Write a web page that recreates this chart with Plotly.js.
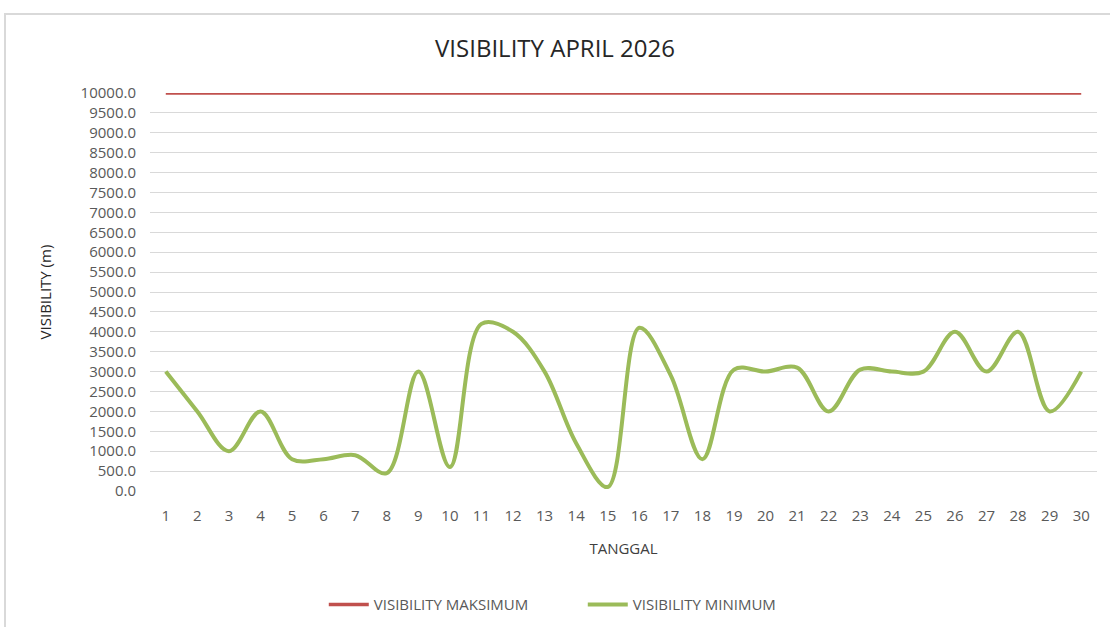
<!DOCTYPE html>
<html>
<head>
<meta charset="utf-8">
<script src="https://cdn.plot.ly/plotly-3.0.1.min.js"></script>
<style>
  html, body { margin: 0; padding: 0; background: #ffffff; width: 1110px; height: 627px; overflow: hidden; }
  #frame { position: absolute; left: 4px; top: 13px; width: 1200px; height: 700px; border: 2px solid #d9d9d9; box-sizing: border-box; }
  #chart { position: absolute; left: 0; top: 0; width: 1110px; height: 627px; }
</style>
</head>
<body>
<div id="frame"></div>
<div id="chart"></div>
<script>
const days = [1,2,3,4,5,6,7,8,9,10,11,12,13,14,15,16,17,18,19,20,21,22,23,24,25,26,27,28,29,30];
const visMax = [10000,10000,10000,10000,10000,10000,10000,10000,10000,10000,10000,10000,10000,10000,10000,10000,10000,10000,10000,10000,10000,10000,10000,10000,10000,10000,10000,10000,10000,10000];
const visMin = [3000,2000,1000,2000,800,800,900,450,3000,600,4200,4000,3000,1200,100,4100,2900,800,3050,3000,3100,2000,3050,3000,3000,4000,3000,4000,2000,3000];
const tickVals = [0,500,1000,1500,2000,2500,3000,3500,4000,4500,5000,5500,6000,6500,7000,7500,8000,8500,9000,9500,10000];

const font = 'Open Sans, Liberation Sans, sans-serif';
const traces = [
  { x: days, y: visMax, type: 'scatter', mode: 'lines', name: 'VISIBILITY MAKSIMUM',
    line: { color: '#c0504d', width: 3.5 } },
  { x: days, y: visMin, type: 'scatter', mode: 'lines', name: 'VISIBILITY MINIMUM',
    line: { color: '#9bbb59', width: 4, shape: 'spline', smoothing: 1 } }
];
const layout = {
  width: 1110, height: 627,
  margin: { l: 150, r: 13, t: 93, b: 136, autoexpand: false },
  paper_bgcolor: 'rgba(0,0,0,0)', plot_bgcolor: 'rgba(0,0,0,0)',
  font: { family: font, color: '#595959', size: 15 },
  title: { text: 'VISIBILITY APRIL 2026', font: { family: font, size: 24, color: '#262626' },
           x: 0.5, xanchor: 'center', y: 0.922, yanchor: 'middle' },
  xaxis: {
    type: 'linear', range: [0.5, 30.5], tickmode: 'array', tickvals: days,
    showgrid: false, zeroline: false, showline: false, ticks: '',
    ticklabelstandoff: 14, automargin: false,
    tickfont: { size: 15, color: '#595959' },
    title: { text: 'TANGGAL', font: { size: 15, color: '#404040' }, standoff: 19 }
  },
  yaxis: {
    range: [0, 10000], tickmode: 'array', tickvals: tickVals,
    ticktext: tickVals.map(v => v.toFixed(1)),
    showgrid: true, gridcolor: '#d9d9d9', gridwidth: 1, zeroline: false, showline: false,
    ticklabelstandoff: 13, automargin: false,
    tickfont: { size: 15, color: '#595959' }, ticks: '',
    title: { text: 'VISIBILITY (m)', font: { size: 15, color: '#262626' }, standoff: 25 }
  },
  legend: { orientation: 'h', x: 0.457, xanchor: 'center', y: -0.286, yanchor: 'middle',
            font: { size: 15, color: '#595959' }, itemwidth: 40, entrywidth: 204,
            entrywidthmode: 'pixels', traceorder: 'normal' },
  showlegend: true
};
Plotly.newPlot('chart', traces, layout, { displayModeBar: false, staticPlot: true });
</script>
</body>
</html>
